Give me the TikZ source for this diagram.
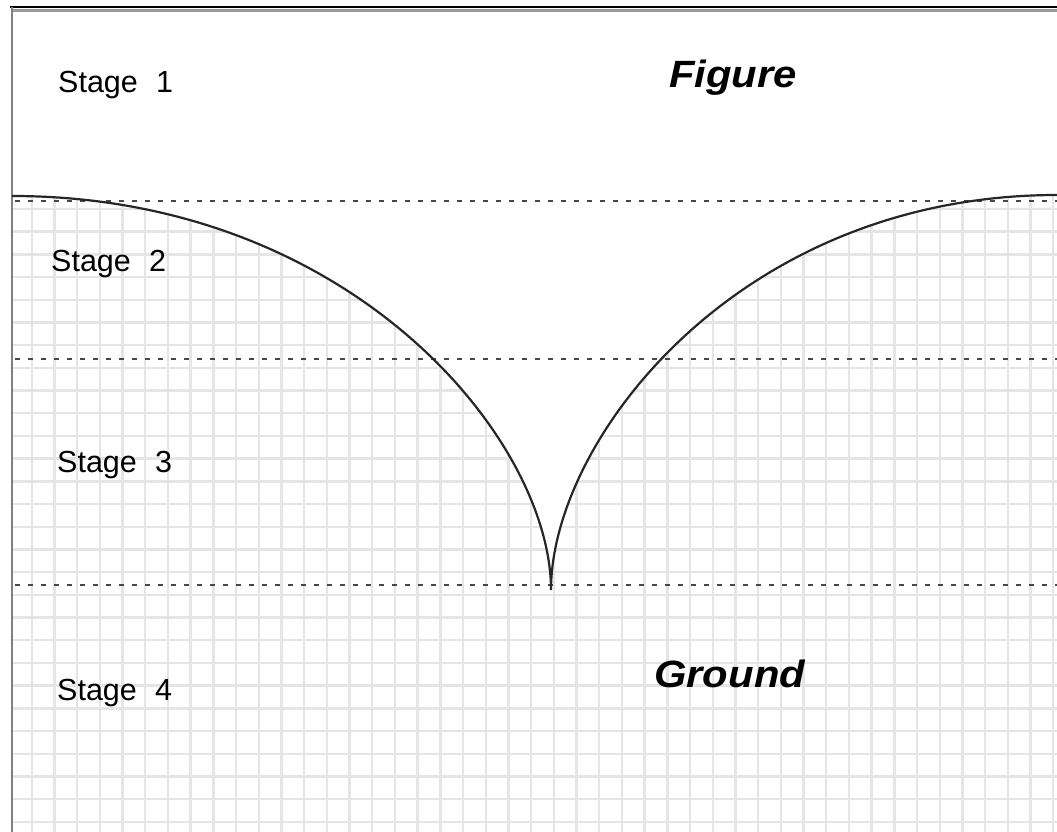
\documentclass[tikz,border=0pt]{standalone}
\usepackage{fontspec}
\setmainfont{Liberation Sans}
\begin{document}
\begin{tikzpicture}[x=1pt,y=-1pt,
  gridline/.style={line width=2.4pt, black!10},
  stageline/.style={line width=2.4pt, black!72, dash pattern=on 5pt off 8pt},
  curveline/.style={line width=2.2pt, black!85},
  stagelabel/.style={font=\fontsize{30.5}{36}\selectfont, anchor=base west, inner sep=0},
  biglabel/.style={font=\fontsize{38}{45}\selectfont\bfseries\itshape, anchor=base west, inner sep=0}]
\useasboundingbox[fill=white] (0,0) rectangle (1057,832);
% key points of the boundary curve
\coordinate (L) at (12,196);
\coordinate (C) at (551,590);
\coordinate (R) at (1057,195);
% grid in the ground region
\begin{scope}
  \clip (L) .. controls (352,196) and (551,440) .. (C)
        .. controls (551,440) and (738,195) .. (R)
        -- (1057,832) -- (12,832) -- cycle;
  \foreach \i in {0,...,46} {
    \draw[gridline] ({9+22.7*\i},180) -- ({9+22.7*\i},832);
  }
  \foreach \k in {8,...,36} {
    \draw[gridline] (12,{4.6+22.7*\k}) -- (1057,{4.6+22.7*\k});
  }
\end{scope}
% frame
\draw[line width=3pt, black!40] (12,11) -- (1057,11);
\draw[line width=1.5pt, black] (10,7) -- (1057,7);
\draw[line width=2.5pt, black!50] (12,7) -- (12,832);
% stage boundaries
\coordinate (s1a) at (15,201);  \coordinate (s1b) at (1057,201);
\coordinate (s2a) at (15,359);  \coordinate (s2b) at (1057,359);
\coordinate (s3a) at (15,585);  \coordinate (s3b) at (1057,585);
\draw[stageline] (s1a) -- (s1b);
\draw[stageline] (s2a) -- (s2b);
\draw[stageline] (s3a) -- (s3b);
% boundary curve
\draw[curveline] (L) .. controls (352,196) and (551,440) .. (C)
      .. controls (551,440) and (738,195) .. (R);
% labels
\node[stagelabel] (st1) at (58,93)  {Stage\hspace{0.6em}1};
\node[stagelabel] (st2) at (51,271) {Stage\hspace{0.6em}2};
\node[stagelabel] (st3) at (57,472) {Stage\hspace{0.6em}3};
\node[stagelabel] (st4) at (57,700) {Stage\hspace{0.6em}4};
\node[biglabel] (fig) at (669,88)  {\scalebox{1.1}[1]{Figure}};
\node[biglabel] (gnd) at (654,687) {\scalebox{1.1}[1]{Ground}};
\end{tikzpicture}
\end{document}
